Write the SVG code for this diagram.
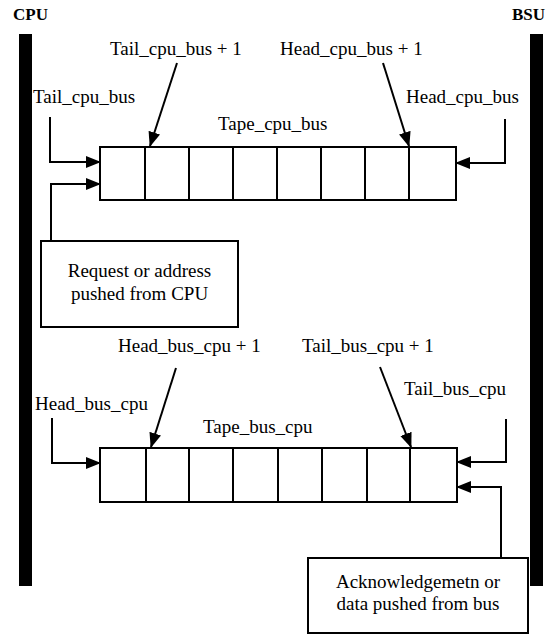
<svg xmlns="http://www.w3.org/2000/svg" width="552" height="635" viewBox="0 0 552 635">
<style>
text{font-size:19px;fill:#000}
.t{font-weight:bold;font-size:17px}
.c{text-anchor:middle}
.box{fill:#fff;stroke:#000;stroke-width:2}
.cell{fill:none;stroke:#000;stroke-width:2}
.con{fill:none;stroke:#000;stroke-width:2;marker-end:url(#ah)}
</style>
<defs>
<marker id="ah" markerUnits="userSpaceOnUse" markerWidth="15" markerHeight="12" viewBox="0 0 15 12" refX="14" refY="6" orient="auto">
<path d="M0,0 L15,6 L0,12 z" fill="#000"/>
</marker>
</defs>
<rect width="552" height="635" fill="#fff"/>
<g id="cpu">
<rect x="19" y="34" width="13" height="552" fill="#000"/>
<text class="t" font-family="Times New Roman" x="13" y="20">CPU</text>
</g>
<g id="bsu">
<rect x="530" y="34" width="13" height="552" fill="#000"/>
<text class="t" font-family="Times New Roman" x="512" y="20">BSU</text>
</g>
<g id="tape_cpu_bus">
<rect class="box" x="100" y="147" width="356" height="53"/>
<path class="cell" d="M145,147V200M189,147V200M233,147V200M277,147V200M321,147V200M365,147V200M409,147V200"/>
<text font-family="Times New Roman" x="218" y="130">Tape_cpu_bus</text>
</g>
<g id="tape_bus_cpu">
<rect class="box" x="100" y="448" width="357" height="54"/>
<path class="cell" d="M146,448V502M189,448V502M233,448V502M278,448V502M322,448V502M367,448V502M410,448V502"/>
<text font-family="Times New Roman" x="203" y="433">Tape_bus_cpu</text>
</g>
<g id="request">
<rect class="box" x="41" y="241" width="197" height="86"/>
<text class="c" font-family="Times New Roman" x="139.5" y="277">Request or address</text>
<text class="c" font-family="Times New Roman" x="139.5" y="300">pushed from CPU</text>
</g>
<g id="ack">
<rect class="box" x="308" y="558" width="220" height="75"/>
<text class="c" font-family="Times New Roman" x="418" y="588">Acknowledgemetn or</text>
<text class="c" font-family="Times New Roman" x="418" y="610">data pushed from bus</text>
</g>
<g id="labels">
<text font-family="Times New Roman" x="110" y="55">Tail_cpu_bus + 1</text>
<text font-family="Times New Roman" x="280" y="55">Head_cpu_bus + 1</text>
<text font-family="Times New Roman" x="33" y="103">Tail_cpu_bus</text>
<text font-family="Times New Roman" x="406" y="103">Head_cpu_bus</text>
<text font-family="Times New Roman" x="118" y="352">Head_bus_cpu + 1</text>
<text font-family="Times New Roman" x="302" y="352">Tail_bus_cpu + 1</text>
<text font-family="Times New Roman" x="404" y="395">Tail_bus_cpu</text>
<text font-family="Times New Roman" x="35" y="410">Head_bus_cpu</text>
</g>
<g id="connectors">
<path class="con" d="M50,117V162H100"/>
<path class="con" d="M51,241V184H100"/>
<path class="con" d="M177,63L150,146"/>
<path class="con" d="M383,63L409,146"/>
<path class="con" d="M505,119V163H456"/>
<path class="con" d="M176,368L151,447"/>
<path class="con" d="M380,367L411,447"/>
<path class="con" d="M52,418V463H100"/>
<path class="con" d="M506,419V462H457"/>
<path class="con" d="M501,558V487H457"/>
</g>
</svg>
